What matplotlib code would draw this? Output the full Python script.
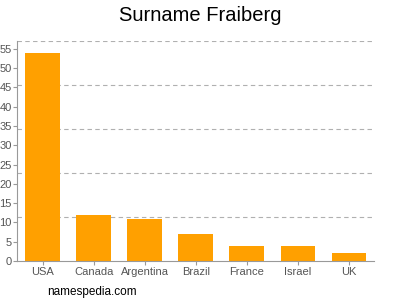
import matplotlib
matplotlib.use("Agg")
import matplotlib.pyplot as plt

countries = ["USA", "Canada", "Argentina", "Brazil", "France", "Israel", "UK"]
counts = [54, 12, 11, 7, 4, 4, 2]
y_ticks = list(range(0, 60, 5))

plt.rcParams['font.family'] = ['Liberation Sans', 'DejaVu Sans']

fig = plt.figure(figsize=(4, 3), dpi=100)
ax = fig.add_axes([0.043, 0.13, 0.893, 0.734])

x = range(len(countries))
ax.bar(x, counts, width=0.68, color="#ffa000", zorder=2)

ymax = 57.1
ax.set_ylim(0, ymax)
ax.set_xlim(-0.5, len(countries) - 0.5)
for k in range(1, 6):
    ax.axhline(ymax * k / 5, color="#b0b0b0", lw=0.8, ls=(0, (4, 3)), zorder=1)

ax.set_yticks(y_ticks)
ax.set_xticks(list(x))
ax.set_xticklabels(countries)
ax.tick_params(axis="both", colors="#999999", labelcolor="#555555",
               labelsize=8, length=3, width=0.8, pad=1)

for side in ["top", "right"]:
    ax.spines[side].set_visible(False)
for side in ["left", "bottom"]:
    ax.spines[side].set_color("#999999")
    ax.spines[side].set_linewidth(0.8)

fig.text(0.5, 0.948, "Surname Fraiberg", ha="center", va="center", fontsize=14.5)
fig.text(0.118, 0.027, "namespedia.com", ha="left", va="center", fontsize=8.5)

fig.savefig("out.png", dpi=100)
